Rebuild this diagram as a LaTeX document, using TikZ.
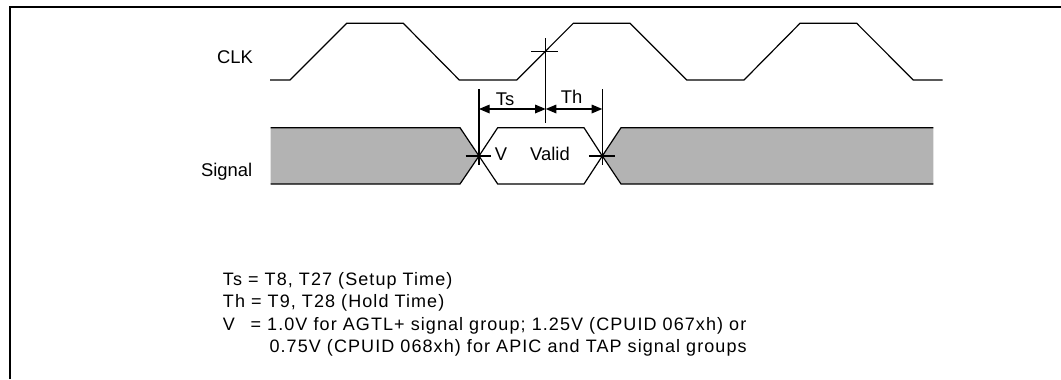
\documentclass[tikz,border=0pt]{standalone}
\usepackage{fontspec}
\setmainfont{Liberation Sans}
\newfontfamily\notefont[LetterSpace=6]{Liberation Sans}
\usetikzlibrary{arrows.meta,positioning}
\definecolor{busgray}{HTML}{B3B3B3}

\begin{document}
\begin{tikzpicture}[x=0.75pt,y=-0.75pt,
  wave/.style={line width=0.9pt, line join=miter},
  tick/.style={line width=0.9pt},
  label/.style={font=\fontsize{13.8}{16}\selectfont, inner sep=0pt, anchor=base},
  note/.style={font=\notefont\fontsize{13.5}{16}\selectfont, inner sep=0pt, anchor=base west},
  dim/.style={line width=0.9pt,
    {Triangle[length=8pt,width=6.5pt]}-{Triangle[length=8pt,width=6.5pt]}}]

  \useasboundingbox (0,0) rectangle (1061,379);
  % frame
  \draw[line width=1.5pt] (10,379) -- (10,7.3) -- (1061,7.3);

  % clock
  \draw[wave] (270,80) -- (290,80) -- (346.7,23.3) -- (403.3,23.3)
    -- (459.3,80) -- (516.7,80) -- (573.3,23.3) -- (630,23.3)
    -- (686.7,80) -- (744,80) -- (800,23.3) -- (856.7,23.3)
    -- (913.3,80) -- (942.7,80);
  \node[label] (clk) at (235,63.3) {CLK};

  % signal bus
  \fill[busgray] (270.7,127.7) -- (460,127.7) -- (479,156) -- (460,184)
    -- (270.7,184) -- cycle;
  \draw[wave] (270.7,127.7) -- (460,127.7) -- (479,156) -- (460,184)
    -- (270.7,184);
  \draw[wave] (479,156) -- (497.7,127.7) -- (584,127.7) -- (602.3,156)
    -- (584,184) -- (497.7,184) -- cycle;
  \fill[busgray] (933.3,127.7) -- (621,127.7) -- (602.3,156) -- (621,184)
    -- (933.3,184) -- cycle;
  \draw[wave] (933.3,127.7) -- (621,127.7) -- (602.3,156) -- (621,184)
    -- (933.3,184);
  \node[label] (sig) at (226.7,176) {Signal};
  \node[label] (v) at (501,160.7) {V};
  \node[label] (valid) at (550,160.7) {Valid};

  % reference points
  \coordinate (ckedge) at (545.7,51.7);
  \coordinate (vin) at (479,156);
  \coordinate (vout) at (602.3,156);
  \coordinate (setup) at (479,109);
  \coordinate (edge) at (545.7,109);
  \coordinate (hold) at (602.3,109);

  % crossing marks
  \draw[tick] ([xshift=-10.7]ckedge) -- ([xshift=9.3]ckedge);
  \draw[tick] ([yshift=10]ckedge) -- (545.7,122.7);
  \draw[tick] (479,89.3) -- (479,165);
  \draw[tick] (602.3,89.3) -- (602.3,165);
  \draw[tick] ([xshift=-10]vin) -- ([xshift=9.3]vin);
  \draw[tick] ([xshift=-10]vout) -- ([xshift=9.3]vout);

  % setup / hold
  \draw[dim] (setup) -- (edge);
  \draw[dim] (edge) -- (hold);
  \node[label] (ts) at (505,105) {Ts};
  \node[label] (th) at (571.7,103) {Th};

  % notes
  \node[note] (n1) at (222.7,285) {Ts = T8, T27 (Setup Time)};
  \node[note] (n2) at (222.7,307.3) {Th = T9, T28 (Hold Time)};
  \node[note] (n3) at (222.7,330) {\makebox[1.2em][l]{V} = 1.0V for AGTL+ signal group; 1.25V (CPUID 067xh) or};
  \node[note] (n4) at (269.3,352.7) {0.75V (CPUID 068xh) for APIC and TAP signal groups};
\end{tikzpicture}
\end{document}
